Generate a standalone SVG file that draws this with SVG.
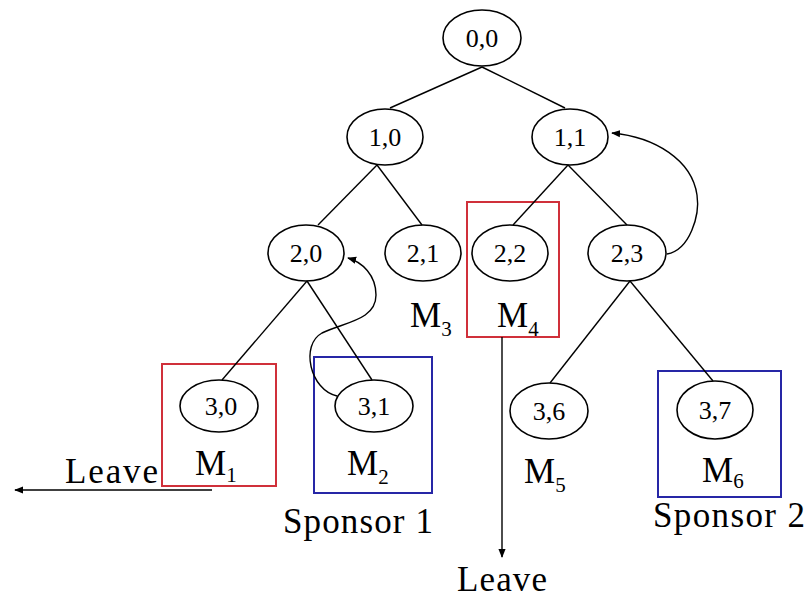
<svg xmlns="http://www.w3.org/2000/svg" width="809" height="601" viewBox="0 0 809 601">
<style>
  .n ellipse { fill: none; stroke: #000; stroke-width: 1.6; }
  .n text { font-family: "Liberation Serif", "Times New Roman", serif; font-size: 26px; text-anchor: middle; fill: #000; }
  .e line, .e path { stroke: #000; stroke-width: 1.4; fill: none; }
  .lbl { font-family: "Liberation Serif", "Times New Roman", serif; font-size: 35px; fill: #000; }
  .sub { font-size: 21px; }
  .red { fill: none; stroke: #d0303a; stroke-width: 2; }
  .blue { fill: none; stroke: #2626a6; stroke-width: 2; }
</style>
<defs>
  <marker id="ah" viewBox="0 0 10 10" refX="9" refY="5" markerWidth="9" markerHeight="9" markerUnits="userSpaceOnUse" orient="auto">
    <path d="M0,1 L10,5 L0,9 z" fill="#000"/>
  </marker>
</defs>
<rect width="809" height="601" fill="#fff"/>

<g id="boxes">
  <rect id="box-m1" class="red" x="162" y="364" width="114" height="122"/>
  <rect id="box-m2" class="blue" x="314" y="357" width="118" height="136"/>
  <rect id="box-m4" class="red" x="467" y="202" width="92" height="135"/>
  <rect id="box-m6" class="blue" x="658" y="371" width="123" height="126"/>
</g>

<g id="connectors" class="e">
  <line x1="482" y1="67" x2="390" y2="108"/>
  <line x1="482" y1="67" x2="565" y2="108"/>
  <line x1="377" y1="165" x2="318" y2="225"/>
  <line x1="377" y1="165" x2="422" y2="225"/>
  <line x1="568" y1="165" x2="513" y2="225"/>
  <line x1="568" y1="165" x2="627" y2="225"/>
  <line x1="307" y1="281" x2="222" y2="380"/>
  <line x1="307" y1="281" x2="372" y2="380"/>
  <line x1="630" y1="281" x2="550" y2="383"/>
  <line x1="630" y1="281" x2="713" y2="381"/>
  <path d="M667,254 C690,250 700,215 697,195 C692,160 655,137 612,133" marker-end="url(#ah)"/>
  <path d="M337,396 C310,390 300,345 322,333 C345,322 376,320 376,295 C376,275 362,262 348,258" marker-end="url(#ah)"/>
  <line x1="212" y1="490" x2="15" y2="490" marker-end="url(#ah)"/>
  <line x1="502" y1="337" x2="502" y2="557" marker-end="url(#ah)"/>
</g>

<g id="n00" class="n"><ellipse cx="482" cy="38" rx="39" ry="28"/><text x="482" y="47">0,0</text></g>
<g id="n10" class="n"><ellipse cx="385" cy="137" rx="38" ry="28"/><text x="385" y="146">1,0</text></g>
<g id="n11" class="n"><ellipse cx="570" cy="137" rx="38" ry="28"/><text x="570" y="146">1,1</text></g>
<g id="n20" class="n"><ellipse cx="306" cy="253" rx="38" ry="28"/><text x="306" y="262">2,0</text></g>
<g id="n21" class="n"><ellipse cx="423" cy="253" rx="38" ry="28"/><text x="423" y="262">2,1</text></g>
<g id="n22" class="n"><ellipse cx="510" cy="253" rx="38" ry="28"/><text x="510" y="262">2,2</text></g>
<g id="n23" class="n"><ellipse cx="627" cy="253" rx="39" ry="28"/><text x="627" y="262">2,3</text></g>
<g id="n30" class="n"><ellipse cx="219" cy="406" rx="39" ry="26"/><text x="221" y="415">3,0</text></g>
<g id="n31" class="n"><ellipse cx="374" cy="406" rx="39" ry="26"/><text x="374" y="415">3,1</text></g>
<g id="n36" class="n"><ellipse cx="549" cy="411" rx="39" ry="28"/><text x="549" y="420">3,6</text></g>
<g id="n37" class="n"><ellipse cx="715" cy="410" rx="38" ry="29"/><text x="715" y="419">3,7</text></g>

<g id="labels">
  <text class="lbl" x="195" y="475">M<tspan class="sub" dy="7">1</tspan></text>
  <text class="lbl" x="347" y="475">M<tspan class="sub" dy="9">2</tspan></text>
  <text class="lbl" x="410" y="327">M<tspan class="sub" dy="9">3</tspan></text>
  <text class="lbl" x="497" y="327">M<tspan class="sub" dy="9">4</tspan></text>
  <text class="lbl" x="524" y="483">M<tspan class="sub" dy="9">5</tspan></text>
  <text class="lbl" x="702" y="482">M<tspan class="sub" dy="6">6</tspan></text>
  <text class="lbl" x="65" y="483" textLength="93" lengthAdjust="spacing">Leave</text>
  <text class="lbl" x="457" y="591" textLength="90" lengthAdjust="spacing">Leave</text>
  <text class="lbl" x="283" y="533" textLength="150" lengthAdjust="spacing">Sponsor 1</text>
  <text class="lbl" x="653" y="527" textLength="152" lengthAdjust="spacing">Sponsor 2</text>
</g>
</svg>
